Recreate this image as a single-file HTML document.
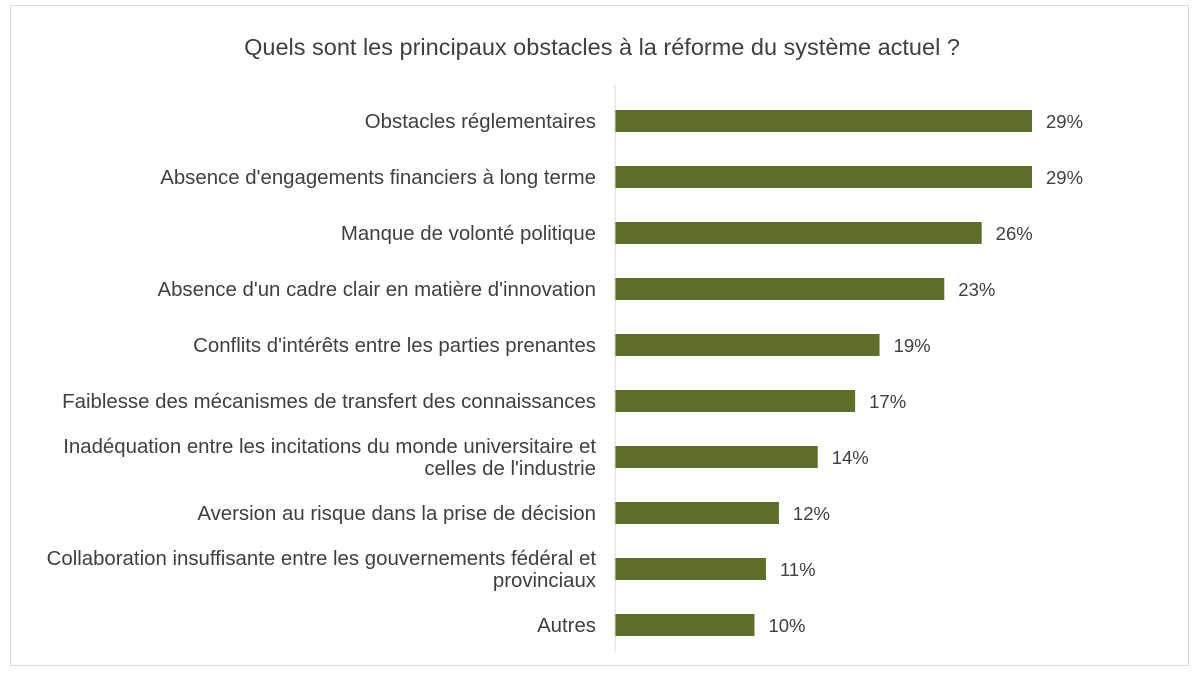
<!DOCTYPE html>
<html><head><meta charset="utf-8"><style>
body{margin:0;background:#fff;width:1200px;height:677px;overflow:hidden;font-family:"Liberation Sans",sans-serif}
#frame{position:absolute;left:10px;top:5px;width:1179px;height:661px;border:1px solid #d9d9d9;box-sizing:border-box}
</style></head><body>
<div id="frame"></div>
<svg id="chart" width="1200" height="677" style="position:absolute;left:0;top:0">
<text x="602" y="55" text-anchor="middle" font-size="23.5" fill="#404040">Quels sont les principaux obstacles à la réforme du système actuel ?</text>
</svg>
<script>
const categories=[["Obstacles réglementaires"],["Absence d'engagements financiers à long terme"],["Manque de volonté politique"],["Absence d'un cadre clair en matière d'innovation"],["Conflits d'intérêts entre les parties prenantes"],["Faiblesse des mécanismes de transfert des connaissances"],["Inadéquation entre les incitations du monde universitaire et","celles de l'industrie"],["Aversion au risque dans la prise de décision"],["Collaboration insuffisante entre les gouvernements fédéral et","provinciaux"],["Autres"]];
const values=[29,29,25.5,22.9,18.4,16.7,14.1,11.4,10.5,9.7];
const valueLabels=["29%","29%","26%","23%","19%","17%","14%","12%","11%","10%"];
const svg=document.getElementById('chart');
const NS='http://www.w3.org/2000/svg';
const x0=615,pxPer=(1032-615)/29,yTop=93,step=56,barH=22;
const xs=v=>x0+v*pxPer;
const yc=i=>yTop+step*(i+0.5);
function mk(t,a){const e=document.createElementNS(NS,t);for(const k in a)e.setAttribute(k,a[k]);svg.appendChild(e);return e;}
values.forEach((v,i)=>{
 const r=mk('rect',{x:x0,y:yc(i)-barH/2,width:xs(v)-x0,height:barH,fill:'#5d6f29'});
 
 
 const t=mk('text',{x:xs(v)+14,y:yc(i)+7,'font-size':18.5,fill:'#404040'});
 t.textContent=valueLabels[i];
 
 
 const lines=categories[i];
 lines.forEach((ln,j)=>{
  const c=mk('text',{x:596,y:yc(i)+7+(j-(lines.length-1)/2)*22,'font-size':20.4,fill:'#404040','text-anchor':'end'});
  c.textContent=ln;
  
  
 });
});
const ax=mk('line',{x1:x0,x2:x0,y1:85,y2:652,stroke:'#d9d9d9','stroke-width':1});


</script>
</body></html>
